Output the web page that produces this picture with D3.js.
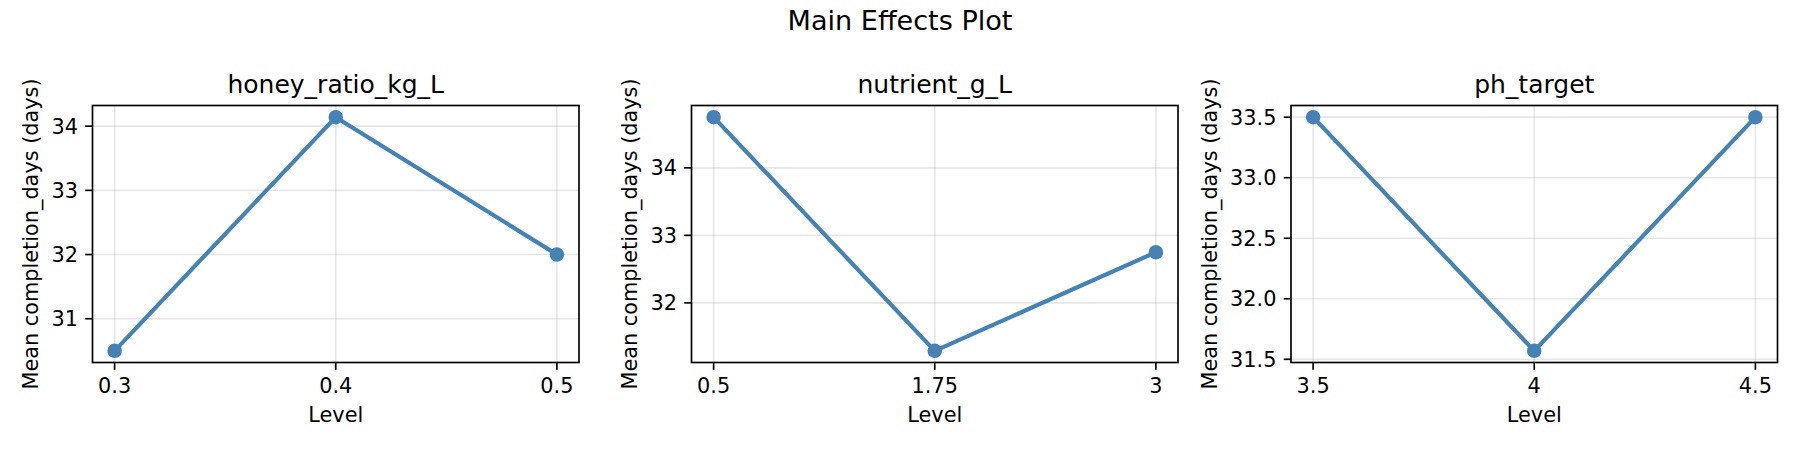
<!DOCTYPE html>
<html>
<head>
<meta charset="utf-8">
<title>Main Effects Plot</title>
<script src="https://cdn.jsdelivr.net/npm/d3@7"></script>
<style>
    html, body { margin: 0; padding: 0; background: #fff; }
    svg text { font-family: "DejaVu Sans", sans-serif; fill: #000; }
</style>
</head>
<body>
<div id="chart"></div>
<script>
;(function (win) {

    "use strict";

    // data
    var factors = ["honey_ratio_kg_L", "nutrient_g_L", "ph_target"];
    var levels = [
        ["0.3", "0.4", "0.5"],
        ["0.5", "1.75", "3"],
        ["3.5", "4", "4.5"]
    ];
    var means = [
        [30.5, 34.14, 32.0],
        [34.75, 31.29, 32.75],
        [33.5, 31.57, 33.5]
    ];
    var chartTitle = "Main Effects Plot";
    var xLabel = "Level";
    var yLabel = "Mean completion_days (days)";

    // config (pt -> px at 150dpi)
    var _config = {
        width: 1800,
        height: 450,
        panelLeft: [92.5, 691.5, 1291],
        panelWidth: 486.5,
        top: 105.5,
        bottom: 362.5,
        color: "#4682b4",
        pt: 150 / 72
    };

    var _tool = {
        // one subplot
        drawPanel: function (svg, i) {
            var pt = _config.pt;
            var x0 = _config.panelLeft[i],
                x1 = x0 + _config.panelWidth,
                y0 = _config.top,
                y1 = _config.bottom;
            var vals = means[i];
            var idx = d3.range(vals.length);

            // 5% margins like matplotlib
            var xs = d3.scaleLinear()
                .domain([-0.05 * (vals.length - 1), (vals.length - 1) * 1.05])
                .range([x0, x1]);
            var ext = d3.extent(vals),
                m = (ext[1] - ext[0]) * 0.05;
            var ys = d3.scaleLinear()
                .domain([ext[0] - m, ext[1] + m])
                .range([y1, y0]);

            var yTicks = ys.ticks(5);
            var step = d3.tickStep(ys.domain()[0], ys.domain()[1], 5);
            var fmt = step < 1 ? d3.format(".1f") : d3.format("d");

            var g = svg.append("g").attr("class", "panel-" + i);

            // grid
            var grid = g.append("g").attr("class", "grid")
                .attr("stroke", "#b0b0b0")
                .attr("stroke-opacity", 0.3)
                .attr("stroke-width", 0.8 * pt);
            grid.selectAll("line.gx").data(idx).enter().append("line")
                .attr("class", "gx")
                .attr("x1", function (d) { return xs(d); })
                .attr("x2", function (d) { return xs(d); })
                .attr("y1", y0).attr("y2", y1);
            grid.selectAll("line.gy").data(yTicks).enter().append("line")
                .attr("class", "gy")
                .attr("y1", function (d) { return ys(d); })
                .attr("y2", function (d) { return ys(d); })
                .attr("x1", x0).attr("x2", x1);

            // line + markers
            var line = d3.line()
                .x(function (d, j) { return xs(j); })
                .y(function (d) { return ys(d); });
            g.append("path")
                .datum(vals)
                .attr("d", line)
                .attr("fill", "none")
                .attr("stroke", _config.color)
                .attr("stroke-width", 2 * pt)
                .attr("stroke-linejoin", "round")
                .attr("stroke-linecap", "square");
            g.selectAll("circle").data(vals).enter().append("circle")
                .attr("cx", function (d, j) { return xs(j); })
                .attr("cy", function (d) { return ys(d); })
                .attr("r", 3 * pt)
                .attr("fill", _config.color)
                .attr("stroke", _config.color)
                .attr("stroke-width", 1 * pt);

            // spines
            g.append("rect")
                .attr("x", x0).attr("y", y0)
                .attr("width", x1 - x0).attr("height", y1 - y0)
                .attr("fill", "none")
                .attr("stroke", "#000")
                .attr("stroke-width", 0.8 * pt);

            // x ticks
            var tickLen = 3.5 * pt, pad = 3.5 * pt;
            var xt = g.append("g").attr("class", "x-ticks");
            xt.selectAll("line").data(idx).enter().append("line")
                .attr("x1", function (d) { return xs(d); })
                .attr("x2", function (d) { return xs(d); })
                .attr("y1", y1).attr("y2", y1 + tickLen)
                .attr("stroke", "#000").attr("stroke-width", 0.8 * pt);
            xt.selectAll("text").data(idx).enter().append("text")
                .attr("x", function (d) { return xs(d); })
                .attr("y", y1 + tickLen + pad + 15.9)
                .attr("text-anchor", "middle")
                .attr("font-size", 10 * pt)
                .text(function (d) { return levels[i][d]; });

            // y ticks
            var yt = g.append("g").attr("class", "y-ticks");
            yt.selectAll("line").data(yTicks).enter().append("line")
                .attr("y1", function (d) { return ys(d); })
                .attr("y2", function (d) { return ys(d); })
                .attr("x1", x0).attr("x2", x0 - tickLen)
                .attr("stroke", "#000").attr("stroke-width", 0.8 * pt);
            var labelW = 0;
            yt.selectAll("text").data(yTicks).enter().append("text")
                .attr("x", x0 - tickLen - pad)
                .attr("y", function (d) { return ys(d); })
                .attr("dy", "0.36em")
                .attr("text-anchor", "end")
                .attr("font-size", 10 * pt)
                .text(function (d) { return fmt(d); })
                .each(function () {
                    labelW = Math.max(labelW, this.getComputedTextLength());
                });

            // axis labels
            g.append("text")
                .attr("x", (x0 + x1) / 2)
                .attr("y", 422)
                .attr("text-anchor", "middle")
                .attr("font-size", 10 * pt)
                .text(xLabel);

            var edge = x0 - tickLen - pad - labelW - 4 * pt;
            var bx = edge - 0.236 * 10 * pt,
                by = (y0 + y1) / 2;
            g.append("text")
                .attr("transform", "translate(" + bx + "," + by + ") rotate(-90)")
                .attr("text-anchor", "middle")
                .attr("font-size", 10 * pt)
                .text(yLabel);

            // subplot title
            g.append("text")
                .attr("x", (x0 + x1) / 2)
                .attr("y", y0 - 6 * pt)
                .attr("text-anchor", "middle")
                .attr("font-size", 12 * pt)
                .text(factors[i]);
        },

        draw: function () {
            var svg = d3.select("#chart").append("svg")
                .attr("width", _config.width)
                .attr("height", _config.height);

            svg.append("text")
                .attr("x", _config.width / 2)
                .attr("y", 30)
                .attr("text-anchor", "middle")
                .attr("font-size", 13 * _config.pt)
                .text(chartTitle);

            for (var i = 0; i < factors.length; i++) {
                _tool.drawPanel(svg, i);
            }
        }
    };

    _tool.draw();

})(window);
</script>
</body>
</html>
